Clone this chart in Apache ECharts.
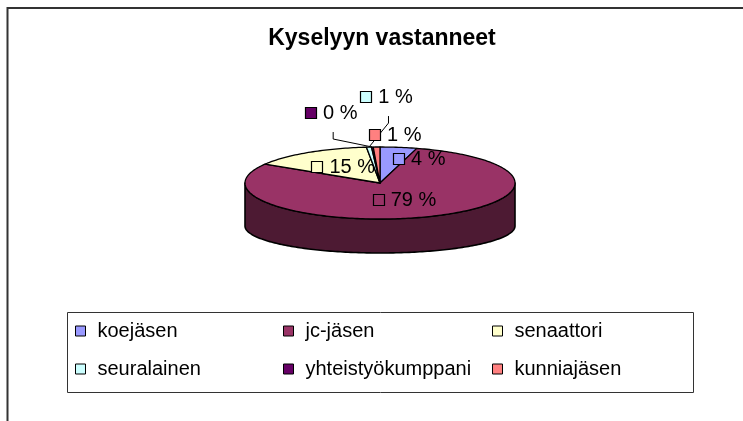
<!DOCTYPE html>
<html><head><meta charset="utf-8">
<script src="https://cdn.jsdelivr.net/npm/echarts@6/dist/echarts.min.js"></script>
<style>html,body{margin:0;padding:0;background:#fff}#c{width:743px;height:421px}</style>
</head><body><div id="c"></div>
<script>
const chartTitle = 'Kyselyyn vastanneet';
const categories = ['koejäsen', 'jc-jäsen', 'senaattori', 'seuralainen', 'yhteistyökumppani', 'kunniajäsen'];
const values = [4.4, 79.4, 14.6, 0.6, 0.2, 0.8];
const colors = ['#9999FF', '#993366', '#FFFFCC', '#CCFFFF', '#660066', '#FF8080'];

// layout (not data)
const PIE = {cx: 380, cy: 183, rx: 135, ry: 36, depth: 43, ryBottom: 27};
const labelShift = [[30, -7], [0, 0], [-1, -1], [12, -69], [-45, -53], [17, -31]];
const hasLeader = [false, false, false, true, true, false];
const FONT = "'Liberation Sans', Arial, sans-serif";

const total = values.reduce((a, b) => a + b, 0);
const starts = [];
let acc = 0;
values.forEach(v => { starts.push(acc); acc += v; });

const mctx = document.createElement('canvas').getContext('2d');
mctx.font = '20px ' + FONT;

function darken(hex, f) {
  const n = parseInt(hex.slice(1), 16);
  const r = Math.round(((n >> 16) & 255) * f), g = Math.round(((n >> 8) & 255) * f), b = Math.round((n & 255) * f);
  return 'rgb(' + r + ',' + g + ',' + b + ')';
}
function topPt(t, r) { return [PIE.cx + r * PIE.rx * Math.sin(t), PIE.cy - r * PIE.ry * Math.cos(t)]; }
function botPt(t) { return [PIE.cx + PIE.rx * Math.sin(t), PIE.cy + PIE.depth - PIE.ryBottom * Math.cos(t)]; }

function renderSlice(i, api) {
  const v = api.value(0);
  const a0 = starts[i] / total * 2 * Math.PI;
  const a1 = (starts[i] + v) / total * 2 * Math.PI;
  const children = [];
  const s0 = Math.max(a0, Math.PI / 2), s1 = Math.min(a1, 3 * Math.PI / 2);
  if (s1 > s0) {
    const pts = [];
    const n = Math.max(2, Math.ceil((s1 - s0) / 0.02));
    for (let k = 0; k <= n; k++) pts.push(topPt(s0 + (s1 - s0) * k / n, 1));
    for (let k = n; k >= 0; k--) pts.push(botPt(s0 + (s1 - s0) * k / n));
    children.push({type: 'polygon', shape: {points: pts}, z2: 1,
      style: {fill: darken(colors[i], 0.5), stroke: '#000', lineWidth: 1.6, lineJoin: 'round'}});
  }
  const tp = [[PIE.cx, PIE.cy]];
  const m = Math.max(1, Math.ceil((a1 - a0) / 0.02));
  for (let k = 0; k <= m; k++) tp.push(topPt(a0 + (a1 - a0) * k / m, 1));
  children.push({type: 'polygon', shape: {points: tp}, z2: 5,
    style: {fill: colors[i], stroke: '#000', lineWidth: 1.3, lineJoin: 'round'}});

  const mid = (a0 + a1) / 2;
  const p = topPt(mid, 0.5);
  const lx = p[0] + labelShift[i][0], ly = p[1] + labelShift[i][1];
  const txt = Math.round(v / total * 100) + ' %';
  const box = 11, gap = 7;
  const tw = mctx.measureText(txt).width;
  const left = lx - (box + gap + tw) / 2;
  children.push({type: 'rect', shape: {x: Math.round(left) + 0.5, y: Math.round(ly - box / 2) + 0.5, width: box, height: box}, z2: 60,
    style: {fill: colors[i], stroke: '#000', lineWidth: 1.2}});
  children.push({type: 'text', x: left + box + gap, y: ly + 1, z2: 60,
    style: {text: txt, font: '20px ' + FONT, fill: '#000', verticalAlign: 'middle', align: 'left'}});
  if (hasLeader[i]) {
    const rim = topPt(mid, 1);
    children.push({type: 'polyline', z2: 50,
      shape: {points: [[lx + 2, ly + 20], [lx + 2, ly + 27], rim]},
      style: {stroke: '#000', lineWidth: 1, fill: null}});
  }
  return {type: 'group', children};
}

const chart = echarts.init(document.getElementById('c'));
chart.setOption({
  animation: false,
  backgroundColor: '#fff',
  title: {text: chartTitle, left: 377, top: 22, textAlign: 'center',
    textStyle: {fontSize: 23, fontWeight: 'bold', fontFamily: FONT, color: '#000'}},
  legend: [0, 1, 2].map(c => ({
    data: [categories[c], categories[c + 3]],
    orient: 'vertical', left: [75, 283, 492][c], top: 321, padding: 0,
    itemWidth: 10, itemHeight: 10, itemGap: 18, icon: 'rect', selectedMode: false,
    itemStyle: {borderColor: '#000', borderWidth: 1},
    textStyle: {fontSize: 20, fontFamily: FONT, color: '#000', lineHeight: 20, padding: [0, 0, 0, 7]}
  })),
  graphic: [
    {type: 'rect', shape: {x: 7.5, y: 8, width: 900, height: 900}, style: {fill: null, stroke: '#333', lineWidth: 2}, silent: true, z: -1},
    {type: 'rect', shape: {x: 67.5, y: 312.5, width: 626, height: 80}, style: {fill: null, stroke: '#333', lineWidth: 1}, silent: true, z: -1}
  ],
  series: categories.map((name, i) => ({
    type: 'custom', name, coordinateSystem: 'none', silent: true,
    itemStyle: {color: colors[i]},
    data: [[values[i]]],
    renderItem: (params, api) => renderSlice(i, api)
  }))
});
</script></body></html>
